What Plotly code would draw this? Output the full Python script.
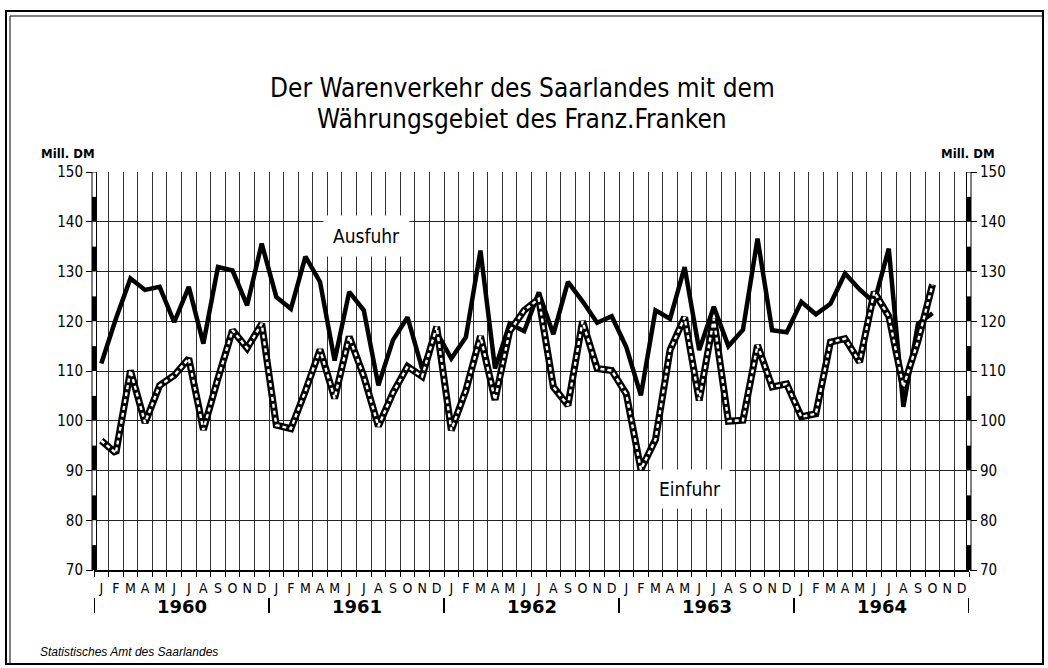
import plotly.graph_objects as go

# ---------------- data ----------------
years = [1960, 1961, 1962, 1963, 1964]
month_letters = ["J", "F", "M", "A", "M", "J", "J", "A", "S", "O", "N", "D"]
y_ticks = [70, 80, 90, 100, 110, 120, 130, 140, 150]

# Mill. DM, monthly Jan 1960 - Oct 1964
ausfuhr = [
    111.5, 120.5, 128.6, 126.3, 126.9, 119.8, 126.9, 115.5, 130.9, 130.2, 123.2, 135.6,
    124.9, 122.5, 133.0, 127.9, 112.1, 125.9, 122.2, 107.1, 116.2, 120.8, 110.5, 117.8,
    112.5, 116.8, 134.2, 110.5, 119.5, 118.0, 125.8, 117.4, 127.9, 124.0, 119.7, 121.0,
    114.8, 105.1, 122.2, 120.5, 130.9, 114.2, 122.9, 115.0, 118.3, 136.6, 118.2, 117.8,
    123.9, 121.4, 123.5, 129.6, 126.4, 123.8, 134.6, 102.8, 119.5, 121.6,
]
einfuhr = [
    96.0, 93.5, 110.1, 99.6, 107.1, 109.1, 112.5, 98.2, 108.5, 118.2, 114.6, 119.5,
    99.1, 98.4, 106.0, 114.3, 104.5, 116.9, 108.9, 98.9, 105.6, 110.9, 108.9, 118.9,
    98.1, 106.1, 117.0, 104.2, 118.0, 122.2, 124.5, 106.8, 103.1, 120.0, 110.5, 110.1,
    105.4, 90.2, 96.2, 114.2, 120.8, 104.1, 120.5, 99.9, 100.1, 115.2, 106.8, 107.4,
    100.8, 101.4, 115.8, 116.5, 111.8, 125.9, 121.0, 106.8, 116.0, 127.4,
]

# ---------------- layout geometry ----------------
W, H = 1048, 668
L, R, T, B = 94, 79, 172, 98
PW, PH = W - L - R, H - T - B
n_months = len(years) * 12


def px(xp):
    return (xp - L) / PW


def py(yp):
    return (H - B - yp) / PH


FONT = "DejaVu Sans Condensed, Liberation Sans Narrow, Roboto, sans-serif"
BOLDFONT = "DejaVu Sans, Liberation Sans, sans-serif"

x_mid = [i + 0.5 for i in range(len(ausfuhr))]

fig = go.Figure()
fig.add_trace(go.Scatter(x=x_mid, y=ausfuhr, mode="lines",
                         line=dict(color="black", width=4.5),
                         name="Ausfuhr", showlegend=False, hoverinfo="skip"))
fig.add_trace(go.Scatter(x=x_mid, y=einfuhr, mode="lines",
                         line=dict(color="black", width=7),
                         name="Einfuhr", showlegend=False, hoverinfo="skip"))
fig.add_trace(go.Scatter(x=x_mid, y=einfuhr, mode="lines",
                         line=dict(color="white", width=2.4, dash="4px,3px"),
                         showlegend=False, hoverinfo="skip"))
# invisible trace to activate right axis
fig.add_trace(go.Scatter(x=[x_mid[0]], y=[ausfuhr[0]], yaxis="y2", mode="markers",
                         marker=dict(opacity=0), showlegend=False, hoverinfo="skip"))

shapes = []
# ruler-style double axis lines on both sides
for xa, xb in [(px(92), px(96.5)), (px(966.5), px(971))]:
    shapes.append(dict(type="rect", xref="paper", yref="y", x0=xa, x1=xb,
                       y0=y_ticks[0], y1=y_ticks[-1],
                       line=dict(color="black", width=1), fillcolor="white", layer="above"))
    for v in y_ticks[:-1]:
        shapes.append(dict(type="rect", xref="paper", yref="y", x0=xa, x1=xb,
                           y0=v, y1=v + 5, line=dict(width=0),
                           fillcolor="black", layer="above"))
# year separators below axis
for k in range(len(years) + 1):
    shapes.append(dict(type="line", xref="x", yref="paper", x0=k * 12, x1=k * 12,
                       y0=py(598), y1=py(613), line=dict(color="black", width=2)))
# outer frame
shapes.append(dict(type="rect", xref="paper", yref="paper",
                   x0=px(6), x1=px(1043), y0=py(11), y1=py(664),
                   line=dict(color="black", width=2)))
shapes.append(dict(type="line", xref="paper", yref="paper",
                   x0=px(10), x1=px(1043), y0=py(16), y1=py(16),
                   line=dict(color="black", width=1)))
shapes.append(dict(type="line", xref="paper", yref="paper",
                   x0=px(10), x1=px(10), y0=py(16), y1=py(664),
                   line=dict(color="black", width=1)))


def ann(text, xp, yp, size, family=FONT, xanchor="center", **kw):
    d = dict(text=text, x=px(xp), y=py(yp), xref="paper", yref="paper",
             xanchor=xanchor, yanchor="middle", showarrow=False,
             font=dict(family=family, size=size, color="black"))
    d.update(kw)
    return d


annotations = [
    ann("Der Warenverkehr des Saarlandes mit dem", 522, 88, 26),
    ann("Währungsgebiet des Franz.Franken", 522, 119, 26),
    ann("<b>Mill. DM</b>", 39, 153, 13, xanchor="left"),
    ann("<b>Mill. DM</b>", 997, 153, 13, xanchor="right"),
    ann("<i>Statistisches Amt des Saarlandes</i>", 38, 652, 12,
        family="Liberation Sans, Arial, sans-serif", xanchor="left"),
    dict(text="Ausfuhr", x=18.7, y=137.1, xref="x", yref="y", showarrow=False,
         xanchor="center", yanchor="middle", bgcolor="white", borderpad=9,
         font=dict(family=FONT, size=19, color="black")),
    dict(text="Einfuhr", x=40.9, y=86.2, xref="x", yref="y", showarrow=False,
         xanchor="center", yanchor="middle", bgcolor="white", borderpad=8,
         font=dict(family=FONT, size=19, color="black")),
]
for k, yr in enumerate(years):
    annotations.append(dict(text="<b>%d</b>" % yr, x=k * 12 + 6, y=py(606),
                            xref="x", yref="paper", showarrow=False,
                            xanchor="center", yanchor="middle",
                            font=dict(family=BOLDFONT, size=18, color="black")))

fig.update_layout(
    width=W, height=H,
    margin=dict(l=L, r=R, t=T, b=B),
    paper_bgcolor="white", plot_bgcolor="white",
    showlegend=False,
    shapes=shapes,
    annotations=annotations,
    xaxis=dict(
        range=[0, n_months],
        tickmode="array",
        tickvals=[i + 0.5 for i in range(n_months)],
        ticktext=month_letters * len(years),
        ticks="", showgrid=False, zeroline=False,
        ticklabelstandoff=4,
        tickfont=dict(family=FONT, size=14, color="black"),
        showline=True, linecolor="black", linewidth=2,
        minor=dict(tickmode="array", tickvals=list(range(n_months + 1)),
                   showgrid=True, gridcolor="#333", gridwidth=1,
                   ticks="outside", ticklen=5, tickcolor="black"),
    ),
    yaxis=dict(
        range=[y_ticks[0], y_ticks[-1]],
        tickmode="array", tickvals=y_ticks,
        showgrid=True, gridcolor="#222", gridwidth=1, zeroline=False,
        ticks="outside", ticklen=7, tickcolor="black",
        tickfont=dict(family=FONT, size=15, color="black"),
        showline=False,
    ),
    yaxis2=dict(
        range=[y_ticks[0], y_ticks[-1]],
        overlaying="y", side="right",
        tickmode="array", tickvals=y_ticks,
        showgrid=False, zeroline=False,
        ticks="outside", ticklen=7, tickcolor="black",
        tickfont=dict(family=FONT, size=15, color="black"),
        showline=False,
    ),
)

fig.write_html("out.html", config={"displayModeBar": False},
               post_script="document.body.style.margin='0';")
